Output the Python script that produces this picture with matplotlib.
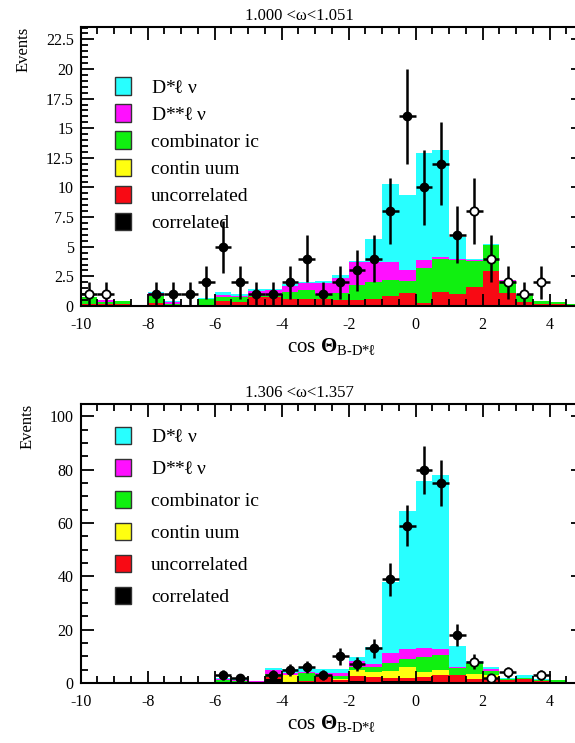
import numpy as np
import matplotlib
matplotlib.use('Agg')
from matplotlib import pyplot as plt
from matplotlib.patches import Patch
from matplotlib.ticker import MultipleLocator, FormatStrFormatter

plt.rcParams.update({
    'font.family': ['Liberation Serif', 'DejaVu Serif'],
    'mathtext.fontset': 'custom',
    'mathtext.rm': 'Liberation Serif',
    'mathtext.it': 'Liberation Serif:italic',
    'mathtext.bf': 'Liberation Serif:bold',
    'axes.unicode_minus': False,
    'axes.linewidth': 1.5,
})

# bin edges of cos(theta_B-D*l): 30 bins of 0.5 from -10 to 5
edges = np.arange(-10, 5.01, 0.5)

labels = [r'D*$\boldsymbol{\ell}$ ' + '\u03bd', r'D**$\boldsymbol{\ell}$ ' + '\u03bd',
          'combinator ic', 'contin uum', 'uncorrelated', 'correlated']
colors = ['#28ffff', '#ff10ff', '#10f010', '#ffff10', '#f80a14', '#000000']

# ---- panel 1 : 1.000 < w < 1.051 ----
top_title = '1.000 <\u03c9<1.051'
top_corr = [0.05, 0, 0, 0, 0, 0, 0, 0, 0, 0,
            0.1, 0.1, 0, 0, 0, 0, 0, 0, 0, 0,
            0, 0, 0, 0, 0, 0, 0, 0, 0, 0]
top_uncorr = [0.1, 0.2, 0.2, 0.05, 0.28, 0.05, 0, 0.05, 0.4, 0.3,
              0.63, 0.63, 0.6, 0.62, 0.56, 0.5, 0.5, 0.6, 0.8, 1.13,
              0.28, 1.2, 1.0, 1.63, 2.96, 1.13, 0.3, 0.17, 0.17, 0.1]
top_cont = [0] * 30
top_comb = [0.63, 0.17, 0.25, 0, 0.57, 0.12, 0, 0.55, 0.33, 0.45,
            0.07, 0.1, 0.6, 0.73, 0.44, 0.57, 1.27, 1.45, 1.4, 0.97,
            2.96, 2.77, 2.9, 2.17, 2.19, 1.01, 0.63, 0.28, 0.2, 0.1]
top_dss = [0, 0.13, 0, 0, 0.28, 0.2, 0, 0, 0.2, 0.05,
           0.47, 0.52, 0.49, 0.62, 0.9, 1.27, 1.98, 1.7, 1.55, 0.94,
           0.66, 0.2, 0.04, 0.05, 0.03, 0.03, 0.03, 0, 0, 0]
top_ds = [0, 0, 0, 0, 0.07, 0.08, 0, 0.05, 0.25, 0.25,
          0.13, 0.11, 0.17, 0.08, 0.2, 0.26, 0.05, 1.88, 6.55, 6.34,
          9.0, 9.03, 1.92, 0.14, 0.09, 0.06, 0.04, 0, 0, 0]

top_x = [-7.75, -7.25, -6.75, -6.25, -5.75, -5.25, -4.75, -4.25, -3.75, -3.25,
         -2.75, -2.25, -1.75, -1.25, -0.75, -0.25, 0.25, 0.75, 1.25]
top_y = [1, 1, 1, 2, 5, 2, 1, 1, 2, 4, 1, 2, 3, 4, 8, 16, 10, 12, 6]
top_err = [1, 1, 1, 1.4, 2.2, 1.4, 1, 1, 1.4, 2, 1, 1.4, 1.7, 2, 2.8, 4, 3.2, 3.5, 2.4]
top_open_x = [-9.75, -9.25, 1.75, 2.25, 2.75, 3.25, 3.75]
top_open_y = [1, 1, 8, 4, 2, 1, 2]
top_open_err = [1, 1, 2.8, 2, 1.4, 1, 1.4]

# ---- panel 2 : 1.306 < w < 1.357 ----
bot_title = '1.306 <\u03c9<1.357'
bot_corr = [0, 0, 0, 0, 0, 0, 0, 0, 0.2, 0.3,
            0.3, 1.5, 0.3, 0.3, 0.5, 0.5, 0.6, 0.5, 0.75, 0.6,
            0.6, 0.5, 0.5, 0.3, 0.3, 0.3, 0.5, 0.3, 0, 0]
bot_uncorr = [0, 0, 0, 0, 0, 0, 0, 0, 0.3, 0.2,
              0, 0.9, 0.2, 0.5, 1.6, 0.5, 2.0, 1.9, 1.0, 1.4,
              1.8, 2.5, 2.5, 1.2, 1.45, 0.8, 1.0, 0.3, 0, 0]
bot_cont = [0, 0, 0, 0, 0, 0, 0, 0, 0, 0,
            0, 0, 2.5, 0, 0, 0.5, 2.3, 1.85, 2.75, 4.1,
            1.85, 1.9, 0, 1.9, 1.25, 0, 0, 0, 0, 0]
bot_comb = [0, 0, 0, 0, 0, 0, 0, 0, 0.5, 0.2,
            0, 0.85, 0, 2.8, 0.9, 1.0, 1.2, 1.85, 2.9, 2.8,
            5.65, 5.6, 2.5, 4.0, 1.6, 0.4, 0.5, 0.5, 1.1, 0]
bot_dss = [0, 0, 0, 0, 0, 0, 0, 0.3, 0.4, 0.4,
           0.45, 1.65, 0.6, 0.65, 0.6, 1.1, 2.15, 1.0, 3.7, 3.7,
           3.1, 2.1, 0.6, 0.4, 0.8, 0, 0, 0, 0, 0]
bot_ds = [0, 0, 0, 0, 0, 0.3, 0, 0, 0.6, 0.65,
          0, 0.6, 1.5, 1.25, 1.5, 1.5, 1.65, 6.5, 26.9, 52,
          62.75, 65.4, 7.9, 0.6, 0.5, 0.5, 1.0, 0.3, 0, 0]

bot_x = [-5.75, -5.25, -4.25, -3.75, -3.25, -2.75, -2.25, -1.75, -1.25,
         -0.75, -0.25, 0.25, 0.75, 1.25]
bot_y = [3, 2, 3, 5, 6, 3, 10, 7, 13, 39, 59, 80, 75, 18]
bot_err = [1.7, 1.4, 1.7, 2.2, 2.4, 1.7, 3.2, 2.6, 3.6, 6.2, 7.7, 8.9, 8.7, 4.2]
bot_open_x = [1.75, 2.25, 2.75, 3.75]
bot_open_y = [8, 2, 4, 3]
bot_open_err = [2.8, 1.4, 2, 1.7]


def draw_panel(ax, title, comps, fx, fy, ferr, ox, oy, oerr, ymax, ymaj, ymin, lspace, lanchor):
    # comps ordered from top of stack (D*lnu) to bottom (correlated)
    bottom = np.zeros(len(edges) - 1)
    for vals, c in zip(comps[::-1], colors[::-1]):
        vals = np.asarray(vals, dtype=float)
        ax.bar(edges[:-1], vals, width=0.5, bottom=bottom, align='edge',
               color=c, linewidth=0, zorder=1)
        bottom = bottom + vals

    ax.errorbar(fx, fy, yerr=ferr, xerr=0.25, fmt='o', color='k', ms=6,
                elinewidth=1.8, capsize=0, zorder=3)
    ax.errorbar(ox, oy, yerr=oerr, xerr=0.25, fmt='o', color='k', mfc='white',
                mec='k', mew=1.3, ms=6, elinewidth=1.8, capsize=0, zorder=3)

    ax.set_xlim(-10, 5)
    ax.set_ylim(0, ymax)
    ax.xaxis.set_major_locator(MultipleLocator(2))
    ax.xaxis.set_minor_locator(MultipleLocator(0.5))
    ax.yaxis.set_major_locator(MultipleLocator(ymaj))
    ax.yaxis.set_minor_locator(MultipleLocator(ymin))
    ax.yaxis.set_major_formatter(FormatStrFormatter('%g'))
    ax.tick_params(which='both', direction='in', top=True, right=True,
                   labelsize=11.5, width=1.3)
    ax.tick_params(which='major', length=9, pad=5)
    ax.tick_params(which='minor', length=5)
    ax.tick_params(axis='x', which='major', pad=8)
    ax.tick_params(axis='y', which='minor', right=False)

    ax.set_title(title, fontsize=12, pad=5, x=0.435)
    ax.set_ylabel('Events', fontsize=12, loc='top', labelpad=10)
    ax.set_xlabel(r'cos $\mathbf{\Theta}_{\text{B-D*}\boldsymbol{\ell}}$', fontsize=15, labelpad=2)

    handles = [Patch(facecolor=c, edgecolor='#333333', linewidth=1.0) for c in colors]
    ax.legend(handles, labels, loc='upper left', bbox_to_anchor=lanchor,
              frameon=False, fontsize=14, handlelength=0.85, handleheight=1.0,
              handletextpad=1.0, labelspacing=lspace, borderpad=0, borderaxespad=0)


fig = plt.figure(figsize=(5.75, 7.43), dpi=100)
ax1 = fig.add_axes([0.1403, 0.5882, 0.8736, 0.3755])
ax2 = fig.add_axes([0.1403, 0.0808, 0.8736, 0.3755])

draw_panel(ax1, top_title, [top_ds, top_dss, top_comb, top_cont, top_uncorr, top_corr],
           top_x, top_y, top_err, top_open_x, top_open_y, top_open_err,
           23.55, 2.5, 0.5, 0.4, (0.068, 0.82))
draw_panel(ax2, bot_title, [bot_ds, bot_dss, bot_comb, bot_cont, bot_uncorr, bot_corr],
           bot_x, bot_y, bot_err, bot_open_x, bot_open_y, bot_open_err,
           104.7, 20, 5, 0.65, (0.068, 0.918))

fig.savefig('out.png', dpi=100)
